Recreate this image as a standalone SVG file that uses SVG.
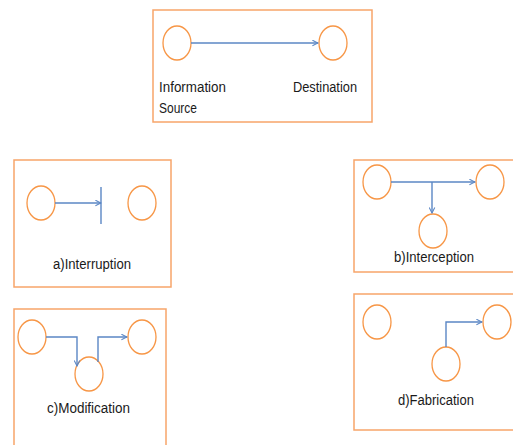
<svg xmlns="http://www.w3.org/2000/svg" width="513" height="445" viewBox="0 0 513 445">
<defs>
<style>
.box{fill:#fff;stroke:#F7A56A;stroke-width:1.5}
.n{fill:#fff;stroke:#F79646;stroke-width:1.3}
.c{fill:none;stroke:#5B87C5;stroke-width:1.4}
.t{font-family:"Liberation Sans",Arial,sans-serif;font-size:14px;fill:#1a1a1a}
</style>
<marker id="ah" viewBox="0 0 10 10" refX="9" refY="5" markerWidth="7" markerHeight="7" orient="auto" markerUnits="userSpaceOnUse">
<path d="M1,1 L9,5 L1,9" fill="none" stroke="#5B87C5" stroke-width="1.5"/>
</marker>
</defs>
<rect width="513" height="445" fill="#fff"/>
<g id="panel-normal">
<rect class="box" x="153" y="10" width="219" height="112"/>
<ellipse id="n-src" class="n" cx="177" cy="43" rx="14" ry="17"/>
<ellipse id="n-dst" class="n" cx="333" cy="43" rx="14" ry="17"/>
<text class="t" x="159" y="92" textLength="67" lengthAdjust="spacingAndGlyphs">Information</text>
<text class="t" x="159" y="113" textLength="38" lengthAdjust="spacingAndGlyphs">Source</text>
<text class="t" x="293" y="92" textLength="64" lengthAdjust="spacingAndGlyphs">Destination</text>
</g>
<g id="panel-a">
<rect class="box" x="14" y="160" width="157" height="127"/>
<ellipse id="a-src" class="n" cx="41" cy="203" rx="14" ry="17"/>
<ellipse id="a-dst" class="n" cx="142" cy="203" rx="14" ry="17"/>
<text class="t" x="53" y="269" textLength="78" lengthAdjust="spacingAndGlyphs">a)Interruption</text>
</g>
<g id="panel-b">
<rect class="box" x="354" y="160" width="165" height="112"/>
<ellipse id="b-src" class="n" cx="377" cy="182" rx="14" ry="17"/>
<ellipse id="b-dst" class="n" cx="490" cy="182" rx="14" ry="17"/>
<ellipse id="b-int" class="n" cx="433" cy="231" rx="14" ry="17"/>
<text class="t" x="394" y="262" textLength="80" lengthAdjust="spacingAndGlyphs">b)Interception</text>
</g>
<g id="panel-c">
<rect class="box" x="14" y="309" width="152" height="140"/>
<ellipse id="c-src" class="n" cx="32" cy="337" rx="14" ry="17"/>
<ellipse id="c-dst" class="n" cx="142" cy="337" rx="14" ry="17"/>
<ellipse id="c-mod" class="n" cx="89" cy="374" rx="14" ry="17"/>
<text class="t" x="47" y="413" textLength="83" lengthAdjust="spacingAndGlyphs">c)Modification</text>
</g>
<g id="panel-d">
<rect class="box" x="354" y="294" width="165" height="136"/>
<ellipse id="d-src" class="n" cx="377" cy="322" rx="14" ry="17"/>
<ellipse id="d-dst" class="n" cx="497" cy="322" rx="14" ry="17"/>
<ellipse id="d-fab" class="n" cx="446" cy="364" rx="14" ry="17"/>
<text class="t" x="398" y="405" textLength="76" lengthAdjust="spacingAndGlyphs">d)Fabrication</text>
</g>
<g id="connectors">
<line class="c" x1="191" y1="43" x2="318" y2="43" marker-end="url(#ah)"/>
<line class="c" x1="55" y1="203" x2="101" y2="203" marker-end="url(#ah)"/>
<line class="c" x1="101" y1="187" x2="101" y2="224"/>
<line class="c" x1="391" y1="182" x2="475" y2="182" marker-end="url(#ah)"/>
<line class="c" x1="432" y1="182" x2="432" y2="213" marker-end="url(#ah)"/>
<polyline class="c" points="46,337 77,337 77,366" marker-end="url(#ah)"/>
<polyline class="c" points="98,362 98,337 127,337" marker-end="url(#ah)"/>
<polyline class="c" points="446,347 446,322 482,322" marker-end="url(#ah)"/>
</g>
</svg>
